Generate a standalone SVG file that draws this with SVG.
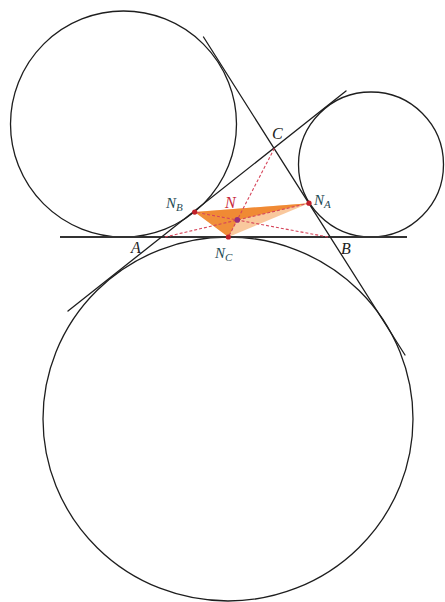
<svg xmlns="http://www.w3.org/2000/svg" width="445" height="602" viewBox="0 0 445 602">
  <style>
    .circ { fill: none; stroke: #1e1e1e; stroke-width: 1.3; }
    .line { fill: none; stroke: #1e1e1e; stroke-width: 1.3; stroke-linecap: round; }
    .base { fill: none; stroke: #333; stroke-width: 2; }
    .dash { fill: none; stroke: #d6455a; stroke-width: 1.1; stroke-dasharray: 3 2; }
    .pt { fill: #c0202a; }
    .lbl { font-family: "Liberation Serif", "DejaVu Serif", serif; font-style: italic; font-size: 16px; fill: #222; }
    .nlbl { font-family: "Liberation Serif", "DejaVu Serif", serif; font-style: italic; font-size: 15px; fill: #1f4a55; }
    .sub { font-size: 11px; }
  </style>
  <rect width="445" height="602" fill="#ffffff"/>

  <g id="excircle-b"><circle class="circ" cx="123.5" cy="124" r="113"/></g>
  <g id="excircle-a"><circle class="circ" cx="371" cy="164.5" r="72.5"/></g>
  <g id="excircle-c"><ellipse class="circ" cx="228" cy="419" rx="185" ry="182"/></g>

  <g id="nagel-triangle">
    <polygon points="194.7,212.05 309,203.2 228.36,237" fill="#f6b074" fill-opacity="0.7"/>
    <polygon points="194.7,212.05 309,203.2 237.3,219.9" fill="#ee7f22" fill-opacity="0.85"/>
    <polygon points="194.7,212.05 237.3,219.9 228.36,237" fill="#ee7f22" fill-opacity="0.8"/>
  </g>

  <g id="connectors">
    <line class="base" x1="60" y1="237" x2="407" y2="237"/>
    <line class="line" x1="68" y1="311" x2="346" y2="91"/>
    <line class="line" x1="203.5" y1="37" x2="405" y2="355"/>
    <line class="dash" x1="165" y1="237" x2="309" y2="203.2"/>
    <line class="dash" x1="328" y1="237" x2="194.7" y2="212.05"/>
    <line class="dash" x1="274.37" y1="148.37" x2="228.36" y2="237"/>
  </g>

  <g id="point-NA"><circle class="pt" cx="309" cy="203.2" r="2.6"/></g>
  <g id="point-NB"><circle class="pt" cx="194.7" cy="212.05" r="2.6"/></g>
  <g id="point-NC"><circle class="pt" cx="228.36" cy="237" r="2.6"/></g>
  <g id="point-N"><circle cx="237.3" cy="219.9" r="2.8" fill="#9a2f7a"/></g>

  <g id="labels">
    <text class="lbl" x="131" y="253">A</text>
    <text class="lbl" x="341" y="254">B</text>
    <text class="lbl" x="272" y="139">C</text>
    <text class="lbl" x="225" y="208" style="fill:#c8283a">N</text>
    <text class="nlbl" x="314" y="205">N<tspan class="sub" dy="3">A</tspan></text>
    <text class="nlbl" x="166" y="208">N<tspan class="sub" dy="3">B</tspan></text>
    <text class="nlbl" x="215" y="258">N<tspan class="sub" dy="3">C</tspan></text>
  </g>
</svg>
